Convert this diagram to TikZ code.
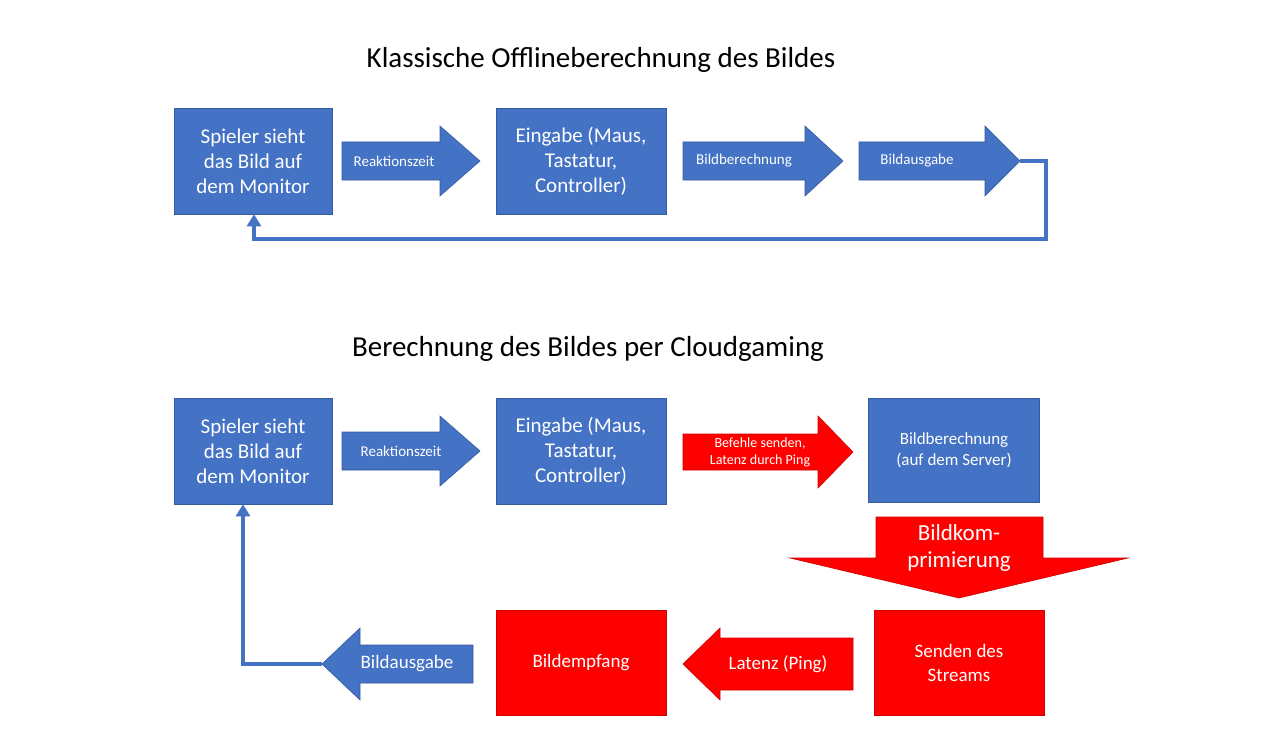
\documentclass[tikz,border=0pt]{standalone}
\usepackage{fontspec}
\setmainfont{Carlito}
\usetikzlibrary{shapes.arrows,arrows.meta}
\definecolor{ob}{HTML}{4472C4}
\definecolor{rd}{HTML}{FF0000}
\tikzset{
 bx/.style={fill=#1,draw=#1!80!black,line width=0.6pt,text=white,align=center,font=\fontsize{21}{25}\selectfont},
 arr/.style={fill=#1,draw=#1!80!black,line width=0.6pt,text=white,align=center},
 fb/.style={draw=ob,line width=4.5pt},
 ttl/.style={font=\fontsize{29}{34}\selectfont}
}
\begin{document}
\begin{tikzpicture}[x=1pt,y=-1pt]
\useasboundingbox (0,0) rectangle (1280,749);
% top
\node[ttl] (t1) at (601,60) {Klassische Offlineberechnung des Bildes};
\node[bx=ob,minimum width=158,minimum height=106] (a1) at (253,161) {Spieler sieht\\das Bild auf\\dem Monitor};
\node[bx=ob,minimum width=170,minimum height=106] (a2) at (581,161) {Eingabe (Maus,\\Tastatur,\\Controller)};
\draw[arr=ob] (342,142) -- (440,142) -- (440,126) -- (480,161) -- (440,196) -- (440,180) -- (342,180) -- cycle;
\node[text=white,font=\fontsize{15}{18}\selectfont] (l1) at (394,161) {Reaktionszeit};
\draw[arr=ob] (683,142) -- (805,142) -- (805,126) -- (843,161) -- (805,196) -- (805,180) -- (683,180) -- cycle;
\node[text=white,font=\fontsize{15}{18}\selectfont] (l2) at (744,161) {Bildberechnung};
\draw[arr=ob] (859,142) -- (985,142) -- (985,126) -- (1020,161) -- (985,196) -- (985,180) -- (859,180) -- cycle;
\node[text=white,font=\fontsize{15}{18}\selectfont] (l3) at (917,161) {Bildausgabe};
\coordinate (c1) at (1020,161);
\draw[fb,-{Triangle[length=12pt,width=14pt]}] (c1) -- (1046,161) -- (1046,239) -- (254,239) -- (a1.south-|254,0);
% bottom
\node[ttl] (t2) at (588,349) {Berechnung des Bildes per Cloudgaming};
\node[bx=ob,minimum width=158,minimum height=106] (b1) at (253,451) {Spieler sieht\\das Bild auf\\dem Monitor};
\node[bx=ob,minimum width=170,minimum height=106] (b2) at (581,451) {Eingabe (Maus,\\Tastatur,\\Controller)};
\node[bx=ob,minimum width=171,minimum height=104,font=\fontsize{17}{21}\selectfont] (b3) at (954,450) {Bildberechnung\\(auf dem Server)};
\draw[arr=ob] (342,432) -- (440,432) -- (440,416) -- (480,451) -- (440,486) -- (440,470) -- (342,470) -- cycle;
\node[text=white,font=\fontsize{15}{18}\selectfont] (l4) at (401,451) {Reaktionszeit};
\draw[arr=rd] (683,434) -- (818,434) -- (818,416) -- (853,452) -- (818,488) -- (818,470) -- (683,470) -- cycle;
\node[text=white,font=\fontsize{14}{17}\selectfont,align=center] (l5) at (760,452) {Befehle senden,\\Latenz durch Ping};
\draw[arr=rd] (876,517) -- (1043,517) -- (1043,558) -- (1128,558) -- (959,598) -- (790,558) -- (876,558) -- cycle;
\node[text=white,font=\fontsize{23}{27}\selectfont,align=center] (l6) at (959,548) {Bildkom-\\primierung};
\node[bx=rd,minimum width=170,minimum height=105,font=\fontsize{19}{24}\selectfont] (b4) at (959,663) {Senden des\\Streams};
\node[bx=rd,minimum width=170,minimum height=105,font=\fontsize{19}{24}\selectfont] (b5) at (581,663) {Bildempfang};
\draw[arr=rd] (853,638) -- (720,638) -- (720,628) -- (683,664) -- (720,700) -- (720,690) -- (853,690) -- cycle;
\node[text=white,font=\fontsize{19}{23}\selectfont] (l7) at (778,664) {Latenz (Ping)};
\draw[arr=ob] (473,645) -- (360,645) -- (360,628) -- (322,664) -- (360,700) -- (360,683) -- (473,683) -- cycle;
\node[text=white,font=\fontsize{19}{23}\selectfont] (l8) at (407,664) {Bildausgabe};
\coordinate (c2) at (322,664);
\draw[fb,-{Triangle[length=12pt,width=14pt]}] (c2) -- (243,664) -- (b1.south-|243,0);
\end{tikzpicture}
\end{document}
